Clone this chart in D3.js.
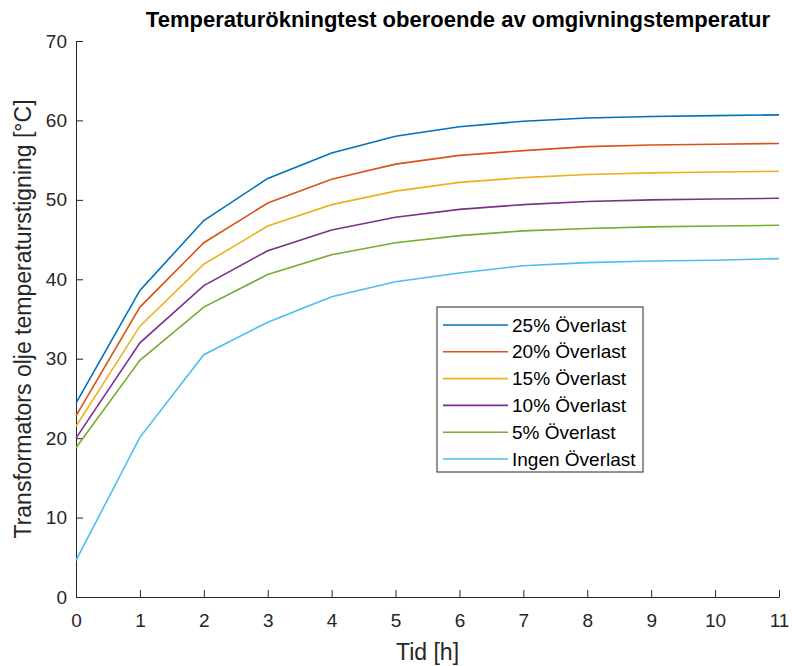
<!DOCTYPE html>
<html>
<head>
<meta charset="utf-8">
<script src="https://cdn.jsdelivr.net/npm/d3@7"></script>
<style>
  body { margin: 0; background: #fff; }
  svg text { font-family: "Liberation Sans", Arial, sans-serif; }
</style>
</head>
<body>
<svg id="chart"></svg>
<script>
let width = 792
let height = 666
let margin = {top: 41, right: 13, bottom: 69, left: 76}

let hours = [0, 1, 2, 3, 4, 5, 6, 7, 8, 9, 10, 11]
let seriesNames = ['25% Överlast', '20% Överlast', '15% Överlast', '10% Överlast', '5% Överlast', 'Ingen Överlast']
let colors = ['#0072BD', '#D95319', '#EDB120', '#7E2F8E', '#77AC30', '#4DBEEE']

let over25 = [24.4, 38.6, 47.4, 52.7, 55.9, 58.0, 59.2, 59.9, 60.3, 60.5, 60.6, 60.7]
let over20 = [22.8, 36.5, 44.6, 49.6, 52.6, 54.5, 55.6, 56.2, 56.7, 56.9, 57.0, 57.1]
let over15 = [21.5, 34.1, 41.9, 46.7, 49.4, 51.1, 52.2, 52.8, 53.2, 53.4, 53.5, 53.6]
let over10 = [20.0, 32.0, 39.2, 43.6, 46.2, 47.8, 48.8, 49.4, 49.8, 50.0, 50.1, 50.2]
let over5 = [18.8, 29.8, 36.5, 40.6, 43.1, 44.6, 45.5, 46.1, 46.4, 46.6, 46.7, 46.8]
let over0 = [4.6, 20.1, 30.5, 34.6, 37.8, 39.7, 40.8, 41.7, 42.1, 42.3, 42.4, 42.6]
let allSeries = [over25, over20, over15, over10, over5, over0]

let yTicks = [0, 10, 20, 30, 40, 50, 60, 70]

let svg = d3.select('#chart')
    .attr('width', width)
    .attr('height', height)

let xScale = d3.scaleLinear()
    .domain([0, 11])
    .range([margin.left, width - margin.right])

let yScale = d3.scaleLinear()
    .domain([0, 70])
    .range([height - margin.bottom, margin.top])

// axes, MATLAB style ticks pointing inward
let xAxis = d3.axisBottom(xScale)
    .tickValues(hours)
    .tickFormat(d3.format('d'))
    .tickSizeInner(-7)
    .tickSizeOuter(0)
    .tickPadding(17)

let yAxis = d3.axisLeft(yScale)
    .tickValues(yTicks)
    .tickSizeInner(-7)
    .tickSizeOuter(0)
    .tickPadding(9)

let gx = svg.append('g')
    .attr('transform', 'translate(0,' + (height - margin.bottom) + ')')
    .call(xAxis)

let gy = svg.append('g')
    .attr('transform', 'translate(' + margin.left + ',0)')
    .call(yAxis)

svg.selectAll('.domain').attr('stroke', '#262626')
svg.selectAll('.tick line').attr('stroke', '#262626')
svg.selectAll('.tick text')
    .attr('fill', '#262626')
    .style('font-size', '19px')

let line = d3.line()
    .x((d, i) => xScale(hours[i]))
    .y((d) => yScale(d))

svg.selectAll('path.series')
    .data(allSeries)
    .enter()
    .append('path')
    .attr('class', 'series')
    .attr('fill', 'none')
    .attr('stroke', (d, i) => colors[i])
    .attr('stroke-width', 1.6)
    .attr('d', line)

// title and labels
svg.append('text')
    .attr('x', 458)
    .attr('y', 27)
    .attr('text-anchor', 'middle')
    .attr('font-weight', 'bold')
    .style('font-size', '22px')
    .attr('fill', '#000')
    .text('Temperaturökningtest oberoende av omgivningstemperatur')

svg.append('text')
    .attr('x', (margin.left + width - margin.right) / 2)
    .attr('y', 660)
    .attr('text-anchor', 'middle')
    .style('font-size', '23px')
    .attr('fill', '#262626')
    .text('Tid [h]')

svg.append('text')
    .attr('transform', 'translate(31,' + ((margin.top + height - margin.bottom) / 2) + ') rotate(-90)')
    .attr('text-anchor', 'middle')
    .style('font-size', '23px')
    .attr('fill', '#262626')
    .text('Transformators olje temperaturstigning [°C]')

// legend
let legend = svg.append('g')
    .attr('transform', 'translate(437,307)')

legend.append('rect')
    .attr('width', 206)
    .attr('height', 165)
    .attr('fill', '#fff')
    .attr('stroke', '#262626')
    .attr('stroke-width', 1)

let items = legend.selectAll('g.item')
    .data(seriesNames)
    .enter()
    .append('g')
    .attr('class', 'item')
    .attr('transform', (d, i) => 'translate(0,' + (18 + i * 26.8) + ')')

items.append('line')
    .attr('x1', 6)
    .attr('x2', 71)
    .attr('stroke', (d, i) => colors[i])
    .attr('stroke-width', 1.6)

items.append('text')
    .attr('x', 75)
    .attr('dy', '0.35em')
    .style('font-size', '19px')
    .attr('fill', '#000')
    .text((d) => d)
</script>
</body>
</html>
